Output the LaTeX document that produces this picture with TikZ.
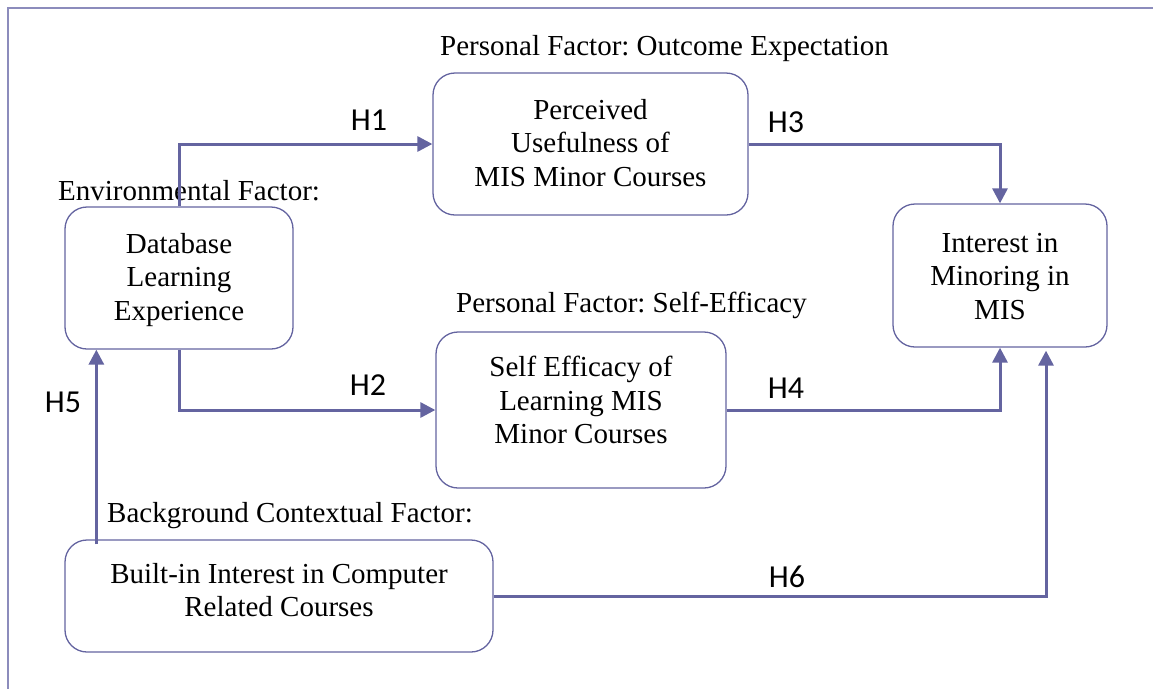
\documentclass[tikz,border=0pt]{standalone}
\usepackage{fontspec}
\setmainfont{Liberation Serif}
\newfontfamily\hypfont{Carlito}
\usetikzlibrary{calc,arrows.meta}
\definecolor{linkblue}{RGB}{100,100,160}
\definecolor{framegray}{RGB}{140,140,188}
\frenchspacing
\newcommand{\factorbox}[6]{
	\node[factor, minimum width=#3, minimum height=#4] (#1) at (#2) {};
	\node[factortext] (#1text) at ($(#1.center)+(0,#5)$) {#6};
}

\begin{document}
\begin{tikzpicture}[x=1pt,y=-1pt,
	factor/.style={draw=linkblue, line width=1.3pt, rounded corners=22pt},
	factortext/.style={align=center, inner sep=0pt, font=\fontsize{29}{33.5}\selectfont},
	factorlabel/.style={anchor=base west, inner sep=0pt, font=\fontsize{29}{33.5}\selectfont},
	hyp/.style={inner sep=0pt, font=\hypfont\fontsize{32}{36}\selectfont},
	link/.style={draw=linkblue, line width=3pt, -{Triangle[length=15pt,width=15pt]}}]
	\useasboundingbox (0,0) rectangle (1153,689);
	\draw[framegray, line width=2pt] (1153,8) -- (8,8) -- (8,689);

	\factorbox{DLE}{179,278}{228pt}{142pt}{2}{Database\\Learning\\Experience}
	\factorbox{PU}{590.5,144}{315pt}{142pt}{-1}{Perceived\\Usefulness of\\MIS Minor Courses}
	\factorbox{SE}{581,410}{290pt}{156pt}{-10}{Self Efficacy of\\Learning MIS\\Minor Courses}
	\factorbox{IM}{1000,275.5}{214pt}{143pt}{1}{Interest in\\Minoring in\\MIS}
	\factorbox{BI}{279,596}{428pt}{112pt}{-6}{Built-in Interest in Computer\\Related Courses}

	\node[factorlabel] (envlabel) at (58,200) {Environmental Factor:};
	\node[factorlabel] (outlabel) at (440,55) {Personal Factor: Outcome Expectation};
	\node[factorlabel] (selflabel) at (456,312) {Personal Factor: Self-Efficacy};
	\node[factorlabel] (bglabel) at (107,522) {Background Contextual Factor:};

	\draw[link] (DLE.north) |- (PU.west);
	\draw[link] (DLE.south) |- (SE.west);
	\draw[link] (PU.east) -| (IM.north);
	\draw[link] (SE.east) -| (IM.south);
	\draw[link] ($(BI.north west)+(32,5)$) -- ($(DLE.south west)+(32,0)$);
	\draw[link] (BI.east) -| ($(IM.south)+(46,3)$);

	\node[hyp] (H1) at (369,120) {H1};
	\node[hyp] (H2) at (368,385) {H2};
	\node[hyp] (H3) at (786,122) {H3};
	\node[hyp] (H4) at (786,388) {H4};
	\node[hyp] (H5) at (63,402) {H5};
	\node[hyp] (H6) at (787,577) {H6};
\end{tikzpicture}
\end{document}
